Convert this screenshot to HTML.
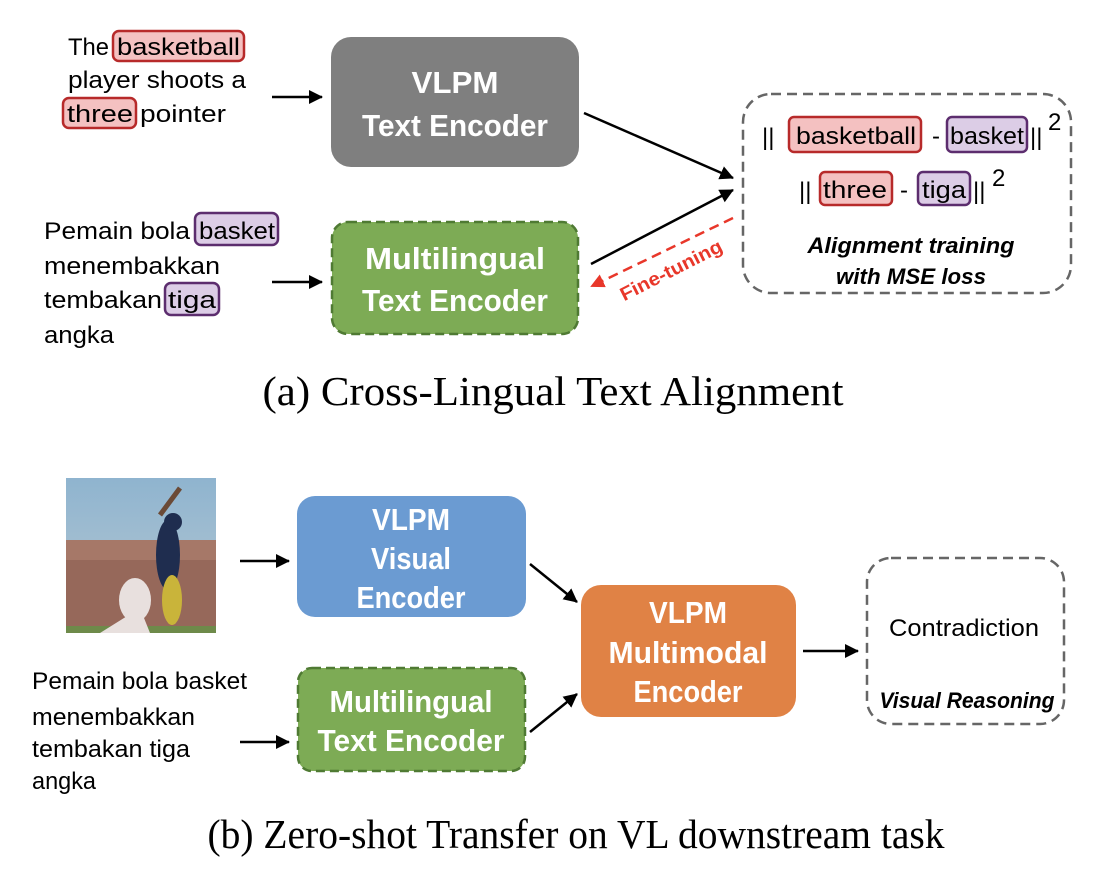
<!DOCTYPE html>
<html><head><meta charset="utf-8"><style>
html,body{margin:0;padding:0;background:#fff;}
svg{display:block;}
.t{font-family:"Liberation Sans",sans-serif;font-size:24px;fill:#000;}
.b{font-family:"Liberation Sans",sans-serif;font-weight:bold;fill:#fff;font-size:31px;text-anchor:middle;}
.cap{font-family:"Liberation Serif",serif;font-size:41px;fill:#000;text-anchor:middle;}
.bi{font-family:"Liberation Sans",sans-serif;font-weight:bold;font-style:italic;font-size:22px;text-anchor:middle;}
</style></head><body>
<svg width="1100" height="872" viewBox="0 0 1100 872" xmlns="http://www.w3.org/2000/svg">
<defs>
<marker id="ar" markerWidth="16" markerHeight="16" refX="12" refY="7" orient="auto" markerUnits="userSpaceOnUse"><path d="M0,0 L14,7 L0,14 z" fill="#e8372a"/></marker>
<marker id="ak" markerWidth="16" markerHeight="16" refX="13" refY="7" orient="auto" markerUnits="userSpaceOnUse"><path d="M0,0 L14,7 L0,14 z" fill="#000"/></marker>
<linearGradient id="sky" x1="0" y1="0" x2="0" y2="1"><stop offset="0" stop-color="#8fb4cf"/><stop offset="1" stop-color="#b8c9d2"/></linearGradient>
</defs>

<!-- Part (a) -->
<rect x="113" y="31" width="131" height="30" rx="6" fill="#f4c1c1" stroke="#b72a2a" stroke-width="2.5"/>
<rect x="63" y="98" width="73" height="30" rx="6" fill="#f4c1c1" stroke="#b72a2a" stroke-width="2.5"/>
<text class="t" x="68" y="55" textLength="41" lengthAdjust="spacingAndGlyphs">The</text>
<text class="t" x="117" y="55" textLength="123" lengthAdjust="spacingAndGlyphs">basketball</text>
<text class="t" x="68" y="88" textLength="178" lengthAdjust="spacingAndGlyphs">player shoots a</text>
<text class="t" x="67" y="122" textLength="66" lengthAdjust="spacingAndGlyphs">three</text>
<text class="t" x="140" y="122" textLength="86" lengthAdjust="spacingAndGlyphs">pointer</text>

<rect x="195" y="213" width="83" height="32" rx="6" fill="#dccde6" stroke="#5c2d6e" stroke-width="2.5"/>
<rect x="165" y="283" width="54" height="32" rx="6" fill="#dccde6" stroke="#5c2d6e" stroke-width="2.5"/>
<text class="t" x="44" y="239" textLength="146" lengthAdjust="spacingAndGlyphs">Pemain bola</text>
<text class="t" x="199" y="239" textLength="76" lengthAdjust="spacingAndGlyphs">basket</text>
<text class="t" x="44" y="274" textLength="176" lengthAdjust="spacingAndGlyphs">menembakkan</text>
<text class="t" x="44" y="308" textLength="118" lengthAdjust="spacingAndGlyphs">tembakan</text>
<text class="t" x="168" y="308" textLength="48" lengthAdjust="spacingAndGlyphs">tiga</text>
<text class="t" x="44" y="343" textLength="70" lengthAdjust="spacingAndGlyphs">angka</text>

<line x1="272" y1="97" x2="322" y2="97" stroke="#000" stroke-width="2.5" marker-end="url(#ak)"/>
<line x1="272" y1="282" x2="322" y2="282" stroke="#000" stroke-width="2.5" marker-end="url(#ak)"/>

<rect x="331" y="37" width="248" height="130" rx="20" fill="#7f7f7f"/>
<text class="b" x="455" y="93" textLength="87" lengthAdjust="spacingAndGlyphs">VLPM</text>
<text class="b" x="455" y="136" textLength="186" lengthAdjust="spacingAndGlyphs">Text Encoder</text>

<rect x="332" y="222" width="246" height="112" rx="16" fill="#7dab55" stroke="#4f7a33" stroke-width="2.5" stroke-dasharray="9,5"/>
<text class="b" x="455" y="269" textLength="180" lengthAdjust="spacingAndGlyphs">Multilingual</text>
<text class="b" x="455" y="311" textLength="186" lengthAdjust="spacingAndGlyphs">Text Encoder</text>

<line x1="584" y1="113" x2="733" y2="178" stroke="#000" stroke-width="2.5" marker-end="url(#ak)"/>
<line x1="591" y1="264" x2="733" y2="190" stroke="#000" stroke-width="2.5" marker-end="url(#ak)"/>
<line x1="733" y1="218" x2="592" y2="286" stroke="#e8372a" stroke-width="2.5" stroke-dasharray="10,6" marker-end="url(#ar)"/>
<text x="0" y="0" transform="translate(674,276) rotate(-27)" font-family="Liberation Sans,sans-serif" font-weight="bold" font-size="19" fill="#e8372a" text-anchor="middle" textLength="112" lengthAdjust="spacingAndGlyphs">Fine-tuning</text>

<rect x="743" y="94" width="328" height="199" rx="28" fill="none" stroke="#666" stroke-width="2.5" stroke-dasharray="10,6"/>
<rect x="789" y="117" width="132" height="35" rx="5" fill="#f4c1c1" stroke="#b72a2a" stroke-width="2.5"/>
<rect x="947" y="117" width="80" height="35" rx="5" fill="#dccde6" stroke="#5c2d6e" stroke-width="2.5"/>
<text class="t" font-size="28" x="762" y="145">||</text>
<text class="t" font-size="27" x="796" y="144" textLength="120" lengthAdjust="spacingAndGlyphs">basketball</text>
<text class="t" font-size="27" x="932" y="144">-</text>
<text class="t" font-size="27" x="950" y="144" textLength="74" lengthAdjust="spacingAndGlyphs">basket</text>
<text class="t" font-size="28" x="1030" y="145">||</text>
<text class="t" font-size="17" x="1048" y="130">2</text>

<rect x="820" y="172" width="72" height="33" rx="5" fill="#f4c1c1" stroke="#b72a2a" stroke-width="2.5"/>
<rect x="918" y="172" width="52" height="33" rx="5" fill="#dccde6" stroke="#5c2d6e" stroke-width="2.5"/>
<text class="t" font-size="28" x="799" y="199">||</text>
<text class="t" font-size="27" x="823" y="198" textLength="64" lengthAdjust="spacingAndGlyphs">three</text>
<text class="t" font-size="27" x="900" y="198">-</text>
<text class="t" font-size="27" x="922" y="198" textLength="44" lengthAdjust="spacingAndGlyphs">tiga</text>
<text class="t" font-size="28" x="973" y="199">||</text>
<text class="t" font-size="17" x="992" y="186">2</text>

<text class="bi" x="911" y="253" textLength="207" lengthAdjust="spacingAndGlyphs">Alignment training</text>
<text class="bi" x="911" y="284" textLength="150" lengthAdjust="spacingAndGlyphs">with MSE loss</text>

<text class="cap" x="553" y="405" textLength="581" lengthAdjust="spacingAndGlyphs">(a) Cross-Lingual Text Alignment</text>

<!-- Part (b) -->
<g>
<rect x="66" y="478" width="150" height="155" fill="url(#sky)"/>
<rect x="66" y="540" width="150" height="93" fill="#a67868"/>
<rect x="66" y="560" width="150" height="73" fill="#8c5e52" opacity="0.6"/>
<rect x="66" y="626" width="150" height="7" fill="#6e8a4a"/>
<ellipse cx="168" cy="555" rx="12" ry="35" fill="#1f2d4f"/>
<ellipse cx="172" cy="600" rx="10" ry="25" fill="#c9b43a"/>
<circle cx="173" cy="522" r="9" fill="#1f2d4f"/>
<line x1="160" y1="515" x2="180" y2="488" stroke="#6b4a36" stroke-width="5"/>
<ellipse cx="135" cy="600" rx="16" ry="22" fill="#e8e0de"/>
<path d="M100,633 L140,608 L150,633 z" fill="#e8e0de"/>
</g>

<line x1="240" y1="561" x2="289" y2="561" stroke="#000" stroke-width="2.5" marker-end="url(#ak)"/>
<line x1="240" y1="742" x2="289" y2="742" stroke="#000" stroke-width="2.5" marker-end="url(#ak)"/>

<rect x="297" y="496" width="229" height="121" rx="18" fill="#6b9bd2"/>
<text class="b" x="411" y="530" textLength="78" lengthAdjust="spacingAndGlyphs">VLPM</text>
<text class="b" x="411" y="569" textLength="80" lengthAdjust="spacingAndGlyphs">Visual</text>
<text class="b" x="411" y="608" textLength="109" lengthAdjust="spacingAndGlyphs">Encoder</text>

<rect x="298" y="668" width="227" height="103" rx="14" fill="#7dab55" stroke="#4f7a33" stroke-width="2.5" stroke-dasharray="9,5"/>
<text class="b" x="411" y="712" textLength="163" lengthAdjust="spacingAndGlyphs">Multilingual</text>
<text class="b" x="411" y="751" textLength="187" lengthAdjust="spacingAndGlyphs">Text Encoder</text>

<text class="t" font-size="22" x="32" y="689" textLength="215" lengthAdjust="spacingAndGlyphs">Pemain bola basket</text>
<text class="t" font-size="22" x="32" y="725" textLength="163" lengthAdjust="spacingAndGlyphs">menembakkan</text>
<text class="t" font-size="22" x="32" y="757" textLength="158" lengthAdjust="spacingAndGlyphs">tembakan tiga</text>
<text class="t" font-size="22" x="32" y="789" textLength="64" lengthAdjust="spacingAndGlyphs">angka</text>

<line x1="530" y1="564" x2="577" y2="602" stroke="#000" stroke-width="2.5" marker-end="url(#ak)"/>
<line x1="530" y1="732" x2="577" y2="694" stroke="#000" stroke-width="2.5" marker-end="url(#ak)"/>

<rect x="581" y="585" width="215" height="132" rx="20" fill="#e08245"/>
<text class="b" x="688" y="623" textLength="78" lengthAdjust="spacingAndGlyphs">VLPM</text>
<text class="b" x="688" y="663" textLength="159" lengthAdjust="spacingAndGlyphs">Multimodal</text>
<text class="b" x="688" y="702" textLength="109" lengthAdjust="spacingAndGlyphs">Encoder</text>

<line x1="803" y1="651" x2="858" y2="651" stroke="#000" stroke-width="2.5" marker-end="url(#ak)"/>

<rect x="867" y="558" width="197" height="166" rx="24" fill="none" stroke="#666" stroke-width="2.5" stroke-dasharray="10,6"/>
<text class="t" font-size="24" x="964" y="636" text-anchor="middle" textLength="150" lengthAdjust="spacingAndGlyphs">Contradiction</text>
<text class="bi" x="967" y="708" font-size="20" fill="#000" textLength="175" lengthAdjust="spacingAndGlyphs">Visual Reasoning</text>

<text class="cap" x="576" y="848" textLength="737" lengthAdjust="spacingAndGlyphs">(b) Zero-shot Transfer on VL downstream task</text>
</svg>
</body></html>
